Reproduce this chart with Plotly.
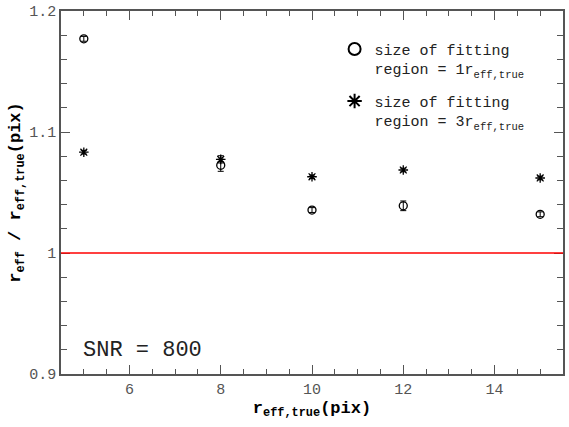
import plotly.graph_objects as go

r_true = [5, 8, 10, 12, 15]
ratio_1r = [1.177, 1.0725, 1.0355, 1.039, 1.032]
err_1r = [0.002, 0.005, 0.002, 0.004, 0.002]
ratio_3r = [1.0833, 1.0774, 1.063, 1.0686, 1.062]
err_3r = [0.0015, 0.003, 0.0015, 0.0015, 0.0015]

FONT = "Liberation Mono, Courier New, monospace"
GRAY = "#555555"

fig = go.Figure()
fig.add_trace(go.Scatter(
    x=r_true, y=ratio_1r, mode="markers", legendgroup="g1",
    name="size of fitting<br>region = 1r<sub>eff,true</sub>",
    marker=dict(symbol="circle-open", size=8, color="black", line=dict(width=1.3, color="black")),
    error_y=dict(type="data", array=err_1r, visible=True, color="black", thickness=1, width=3),
))
fig.add_trace(go.Scatter(
    x=r_true, y=ratio_3r, mode="markers", legendgroup="g2",
    name="size of fitting<br>region = 3r<sub>eff,true</sub>",
    marker=dict(symbol="asterisk-open", size=8, color="black", line=dict(width=1.3, color="black")),
    error_y=dict(type="data", array=err_3r, visible=True, color="black", thickness=1, width=3),
))

fig.add_shape(type="line", xref="paper", x0=0, x1=1, yref="y", y0=1, y1=1,
              line=dict(color="#ff0000", width=1.3))

fig.add_annotation(text="SNR = 800", xref="paper", yref="paper", x=0.04, y=0.065,
                   xanchor="left", yanchor="middle", showarrow=False,
                   font=dict(family=FONT, size=22, color="#222222"))

axis_common = dict(
    showline=True, linecolor=GRAY, linewidth=1.5, mirror="ticks",
    ticks="inside", tickcolor=GRAY, tickwidth=1, ticklen=9,
    showgrid=False, zeroline=False, automargin=False, ticklabeloverflow="allow",
    tickfont=dict(family=FONT, size=15, color=GRAY),
)

fig.update_layout(
    width=569, height=427,
    margin=dict(l=61, r=6, t=11, b=53),
    paper_bgcolor="white", plot_bgcolor="white",
    font=dict(family=FONT, color="black"),
    xaxis=dict(range=[4.5, 15.5], dtick=2, tick0=0,
               minor=dict(dtick=0.5, ticks="inside", ticklen=5, tickcolor=GRAY, showgrid=False),
               title=dict(text="<b>r<sub>eff,true</sub>(pix)</b>", font=dict(family=FONT, size=17), standoff=2),
               **axis_common),
    yaxis=dict(range=[0.9, 1.2], dtick=0.1, tick0=0,
               minor=dict(dtick=0.02, ticks="inside", ticklen=6, tickcolor=GRAY, showgrid=False),
               title=dict(text="<b>r<sub>eff</sub> / r<sub>eff,true</sub>(pix)</b>", font=dict(family=FONT, size=17), standoff=4),
               **axis_common),
    legend=dict(x=0.545, y=0.94, xanchor="left", yanchor="top", bgcolor="rgba(0,0,0,0)",
                font=dict(family=FONT, size=15, color="#222222"), valign="top",
                itemsizing="constant", tracegroupgap=10, itemwidth=30),
    showlegend=True,
)

fig.write_html("out.html", config={"displayModeBar": False},
               post_script="document.body.style.margin='0';")
